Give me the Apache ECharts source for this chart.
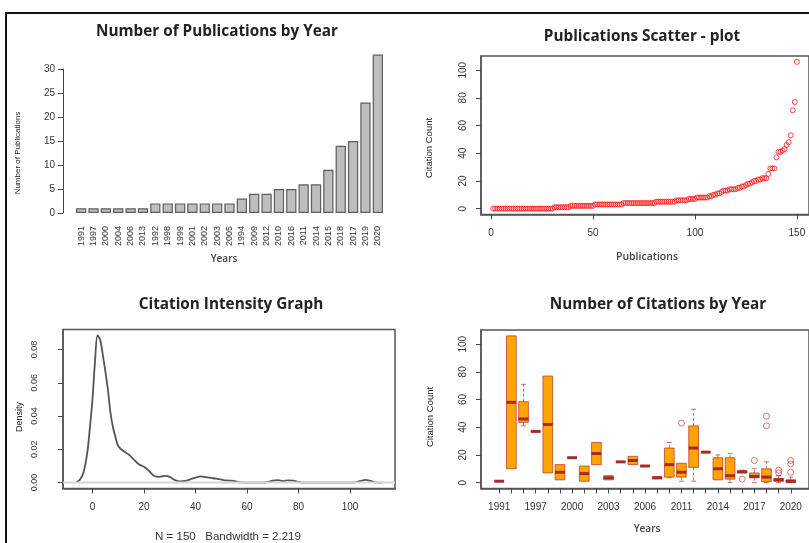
<!DOCTYPE html>
<html><head><meta charset="utf-8">
<script src="https://cdn.jsdelivr.net/npm/echarts@6/dist/echarts.min.js"></script>
<style>html,body{margin:0;padding:0;background:#fff}#c{width:809px;height:543px}</style>
</head><body><div id="c"></div>
<script>
// ---------- DATA ----------
const barYears = ['1991','1997','2000','2004','2006','2013','1992','1998','1999','2001','2002','2003','2005','1994','2009','2012','2010','2016','2011','2014','2015','2018','2017','2019','2020'];
const barCounts = [1,1,1,1,1,1,2,2,2,2,2,2,2,3,4,4,5,5,6,6,9,14,15,23,33];
const barYTicks = [0,5,10,15,20,25,30];

const scatterCitations = [
  0,0,0,0,0,0,0,0,0,0,0,0,0,0,0,0,0,0,0,0,0,0,0,0,0,0,0,0,0,0,
  1,1,1,1,1,1,1,1,
  2,2,2,2,2,2,2,2,2,2,2,2,
  3,3,3,3,3,3,3,3,3,3,3,3,3,3,
  4,4,4,4,4,4,4,4,4,4,4,4,4,4,4,4,
  5,5,5,5,5,5,5,5,5,5,
  6,6,6,6,6,6,
  7,7,7,7,
  8,8,8,8,8,8,
  9,9,10,10,
  11,11,12,13,
  13,13,14,14,14,14,
  15,15,16,16,
  17,18,18,19,
  20,20,21,21,22,22,
  22,25,29,29,29,
  37,41,41,42,43,46,48,53,71,77,106
];
const scatterXTicks = [0,50,100,150];
const scatterYTicks = [0,20,40,60,80,100];

const densX = [-6.5,-5,-3.5,-2,-1,0,1,2,3,4,5,6,7,8,9,10,12,14,16,18,20,22,24,26,28,30,32,34,36,38,40,42,44,46,48,50,52,54,56,58,60,62,64,66,68,70,72,74,76,78,80,82,84,90,100,102,104,106,108,110,112.6];
const densY = [0.0003,0.0015,0.006,0.018,0.033,0.050,0.073,0.0885,0.086,0.077,0.067,0.056,0.042,0.033,0.027,0.022,0.019,0.017,0.014,0.011,0.0095,0.007,0.004,0.0035,0.004,0.0035,0.0015,0.0007,0.001,0.002,0.003,0.0038,0.0033,0.0028,0.0024,0.0018,0.0013,0.0012,0.0006,0.0001,0,0,0,0,0.0003,0.0012,0.0015,0.0009,0.0014,0.0012,0.0004,0,0,0,0,0.0002,0.001,0.0016,0.001,0.0002,0];
const densXTicks = [0,20,40,60,80,100];
const densYTicks = [0,0.02,0.04,0.06,0.08];

const boxYears = ['1991','1992','1994','1997','1998','1999','2000','2001','2002','2003','2004','2005','2006','2009','2010','2011','2012','2013','2014','2015','2016','2017','2018','2019','2020'];
const boxMin = [1,10,41,37,7,2,18,1,13,2,15,13,12,2.5,3.5,1,1,22,2,0,7,0,0,0,0];
const boxQ1  = [1,10,43.5,37,7,2,18,1,13,2,15,13,12,2.8,4,4,11,22,2,2.5,7,3.5,0.7,1,0];
const boxMed = [1,58,46,37,42,7.5,18,6.5,21,3.5,15,16,12,3.5,13,7.5,25,22,10,5,7.8,4.5,4,2,1];
const boxQ3  = [1,106,58.5,37,77,13,18,12,29,5,15,19,12,4.3,25,14,41,22,18,18,8.5,7,10,3,2];
const boxMax = [1,106,71,37,77,13,18,12,29,5,15,19,12,4.5,29,14,53,22,20,21,9,10,15,5,4];
const outlierYears  = ['2011','2016','2017','2018','2018','2019','2019','2020','2020','2020'];
const outlierValues = [43,2.5,16,41,48,7,9,7.5,13.5,16];
const boxLabelYears = ['1991','1997','2000','2003','2006','2011','2014','2017','2020'];
const boxYTicks = [0,20,40,60,80,100];

// ---------- CHART ----------
const chart = echarts.init(document.getElementById('c'), null, {renderer:'canvas'});
const tickCol = '#444', labCol = '#333', frameCol = '#555';
const F = '"Liberation Sans", Arial, sans-serif';

function framedAxis(grid, min, max, ticks, extra) {
  return Object.assign({
    type:'value', gridIndex:grid, min, max,
    axisLine:{show:true, onZero:false, lineStyle:{color:frameCol, width:1.5}}, splitLine:{show:false},
    axisTick:{show:true, length:5, customValues:ticks, lineStyle:{color:tickCol, width:1}},
    axisLabel:{customValues:ticks, color:labCol, fontSize:10, fontFamily:F}
  }, extra || {});
}

const boxData = boxYears.map((y,k)=>[k+1, boxMin[k], boxQ1[k], boxMed[k], boxQ3[k], boxMax[k]]);
const outData = outlierYears.map((y,k)=>[boxYears.indexOf(y)+1, outlierValues[k]]);

function txt(x, y, text, font, rot, color) {
  return {type:'text', x, y, rotation: rot||0, silent:true,
    style:{text, font, fill: color||'#222', align:'center', verticalAlign:'middle', textAlign:'center', textVerticalAlign:'middle'}};
}
const titleFont = 'bold 15.3px "Open Sans", sans-serif';

const option = {
  animation:false,
  backgroundColor:'#fff',
  grid:[
    {left:75, top:69, width:309, height:144, show:false},
    {left:481, right:-4, top:56, height:158.5, show:true, borderColor:frameCol, borderWidth:1.5},
    {left:63, width:332, top:329.5, height:159, show:true, borderColor:frameCol, borderWidth:1.5},
    {left:481, right:-4, top:330, height:158.5, show:true, borderColor:frameCol, borderWidth:1.5}
  ],
  xAxis:[
    {type:'category', gridIndex:0, data:barYears, axisLine:{show:false}, axisTick:{show:false},
     axisLabel:{rotate:90, fontSize:9, color:labCol, fontFamily:F, margin:13, interval:0}},
    framedAxis(1, -4.96, 155.96, scatterXTicks, {axisLabel:{customValues:scatterXTicks, color:labCol, fontSize:10, fontFamily:F, margin:14}}),
    framedAxis(2, -11.43, 117.43, densXTicks, {axisLabel:{customValues:densXTicks, color:labCol, fontSize:10, fontFamily:F, margin:14}}),
    framedAxis(3, -0.5, 26.5, boxYears.map((y,k)=>k+1), {axisLabel:{customValues:boxLabelYears.map(y=>boxYears.indexOf(y)+1), formatter:v=>boxYears[Math.round(v)-1], color:labCol, fontSize:10, fontFamily:F, margin:14}})
  ],
  yAxis:[
    {type:'value', gridIndex:0, min:0, max:30, interval:5, offset:12,
     axisLine:{show:true, onZero:false, lineStyle:{color:tickCol, width:1}}, splitLine:{show:false},
     axisTick:{show:true, length:5, lineStyle:{color:tickCol}},
     axisLabel:{color:labCol, fontSize:10, fontFamily:F, margin:8}},
    framedAxis(1, -4.24, 110.24, scatterYTicks, {axisLabel:{customValues:scatterYTicks, rotate:90, color:labCol, fontSize:10, fontFamily:F, margin:13}}),
    framedAxis(2, -0.00354, 0.0921, densYTicks, {axisLabel:{customValues:densYTicks, rotate:90, color:labCol, fontSize:9, fontFamily:F, margin:24, formatter:v=>v.toFixed(2)}}),
    framedAxis(3, -4.24, 110.24, boxYTicks, {axisLabel:{customValues:boxYTicks, rotate:90, color:labCol, fontSize:10, fontFamily:F, margin:13}})
  ],
  series:[
    {type:'bar', xAxisIndex:0, yAxisIndex:0, data:barCounts, barCategoryGap:'16.7%', clip:false,
     itemStyle:{color:'#bebebe', borderColor:'#5e5e5e', borderWidth:1.2}},
    {type:'scatter', xAxisIndex:1, yAxisIndex:1, data:scatterCitations.map((v,i)=>[i+1,v]),
     symbol:'circle', symbolSize:5, itemStyle:{color:'rgba(0,0,0,0)', borderColor:'#ff1a1a', borderWidth:1}},
    {type:'line', xAxisIndex:2, yAxisIndex:2, data:densX.map((x,i)=>[x,densY[i]]), showSymbol:false, smooth:0.35,
     lineStyle:{color:'#555', width:1.8}},
    {type:'line', xAxisIndex:2, yAxisIndex:2, data:[[-11.43,0],[117.43,0]], showSymbol:false, z:5, silent:true,
     lineStyle:{color:'#d6d6d6', width:2}},
    {type:'custom', xAxisIndex:3, yAxisIndex:3, data:boxData, encode:{x:0, y:[1,2,3,4,5]},
     renderItem:function(params, api){
       const i = api.value(0);
       const w = api.size([0.8,0])[0];
       const c = api.coord([i, 0])[0];
       const y = k => api.coord([i, api.value(k)])[1];
       const yMin=y(1), yQ1=y(2), yMed=y(3), yQ3=y(4), yMax=y(5);
       const border = 'rgba(178,34,34,0.65)';
       const ch = [];
       if (yMax < yQ3 - 0.5) {
         ch.push({type:'line', shape:{x1:c,y1:yQ3,x2:c,y2:yMax}, style:{stroke:border, lineWidth:1, lineDash:[3,2]}});
         ch.push({type:'line', shape:{x1:c-w/4,y1:yMax,x2:c+w/4,y2:yMax}, style:{stroke:border, lineWidth:1}});
       }
       if (yMin > yQ1 + 0.5) {
         ch.push({type:'line', shape:{x1:c,y1:yQ1,x2:c,y2:yMin}, style:{stroke:border, lineWidth:1, lineDash:[3,2]}});
         ch.push({type:'line', shape:{x1:c-w/4,y1:yMin,x2:c+w/4,y2:yMin}, style:{stroke:border, lineWidth:1}});
       }
       ch.push({type:'rect', shape:{x:c-w/2, y:yQ3, width:w, height:Math.max(yQ1-yQ3,0)}, style:{fill:'#ffa500', stroke:border, lineWidth:1}});
       ch.push({type:'line', shape:{x1:c-w/2,y1:yMed,x2:c+w/2,y2:yMed}, style:{stroke:'#a52a2a', lineWidth:3}});
       return {type:'group', children:ch};
     }},
    {type:'scatter', xAxisIndex:3, yAxisIndex:3, data:outData, symbol:'circle', symbolSize:6,
     itemStyle:{color:'rgba(0,0,0,0)', borderColor:'rgba(178,34,34,0.75)', borderWidth:1}}
  ],
  graphic:[
    {type:'line', shape:{x1:5,y1:13,x2:809,y2:13}, style:{stroke:'#111', lineWidth:2}, silent:true},
    {type:'line', shape:{x1:6,y1:12,x2:6,y2:543}, style:{stroke:'#111', lineWidth:2}, silent:true},
    txt(217, 32, 'Number of Publications by Year', titleFont),
    txt(642, 37, 'Publications Scatter - plot', titleFont),
    txt(231, 305, 'Citation Intensity Graph', titleFont),
    txt(658, 305, 'Number of Citations by Year', titleFont),
    txt(18, 153, 'Number of Publications', '8px '+F, Math.PI/2),
    txt(224, 259, 'Years', '600 10px "Open Sans", sans-serif', 0, '#444'),
    txt(429, 148, 'Citation Count', '9.5px '+F, Math.PI/2),
    txt(647, 257, 'Publications', '600 10.5px "Open Sans", sans-serif', 0, '#444'),
    txt(20, 417, 'Density', '9px '+F, Math.PI/2),
    txt(228, 537, 'N = 150   Bandwidth = 2.219', '11.5px '+F, 0, '#333'),
    txt(430, 417, 'Citation Count', '9.5px '+F, Math.PI/2),
    txt(647, 529, 'Years', '600 10px "Open Sans", sans-serif', 0, '#444')
  ]
};
chart.setOption(option);
</script></body></html>
